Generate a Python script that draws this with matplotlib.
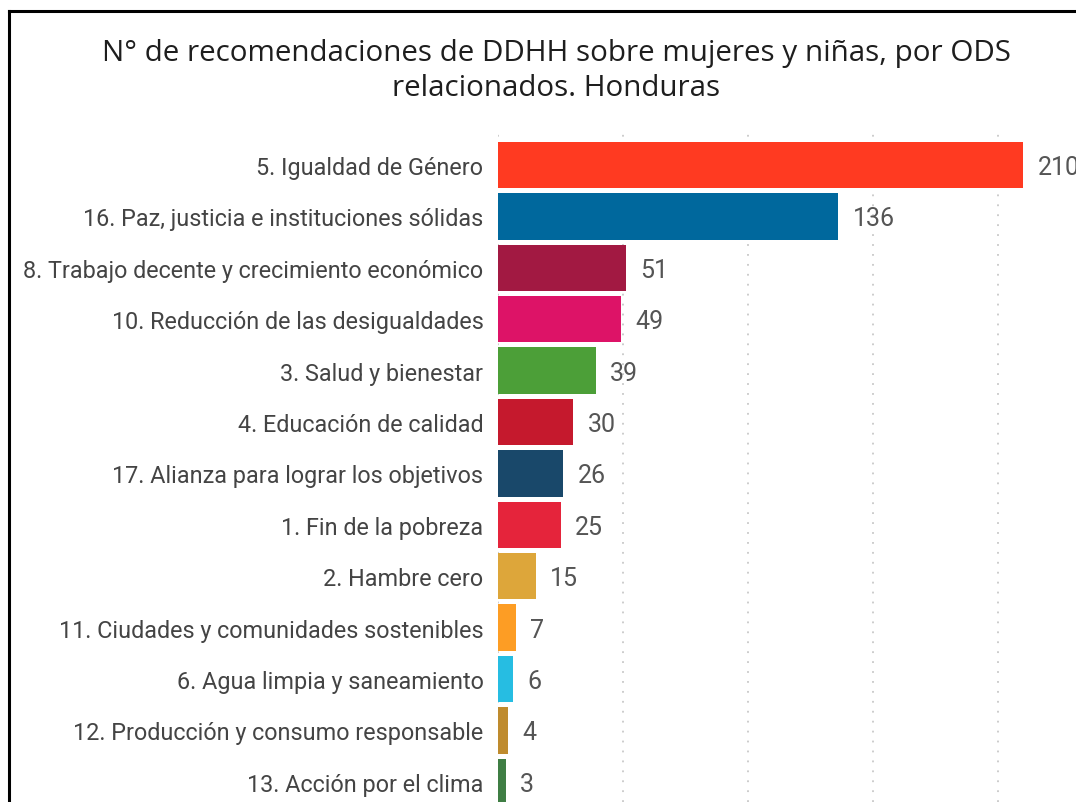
import matplotlib.pyplot as plt
from matplotlib.lines import Line2D

# ODS categories, counts and official SDG colours
categories = [
    "5. Igualdad de Género",
    "16. Paz, justicia e instituciones sólidas",
    "8. Trabajo decente y crecimiento económico",
    "10. Reducción de las desigualdades",
    "3. Salud y bienestar",
    "4. Educación de calidad",
    "17. Alianza para lograr los objetivos",
    "1. Fin de la pobreza",
    "2. Hambre cero",
    "11. Ciudades y comunidades sostenibles",
    "6. Agua limpia y saneamiento",
    "12. Producción y consumo responsable",
    "13. Acción por el clima",
]
counts = [210, 136, 51, 49, 39, 30, 26, 25, 15, 7, 6, 4, 3]
colors = ["#FF3A21", "#00689D", "#A21942", "#DD1367", "#4C9F38", "#C5192D",
          "#19486A", "#E5243B", "#DDA63A", "#FD9D24", "#26BDE2", "#BF8B2E", "#3F7E44"]
grid_ticks = [0, 50, 100, 150, 200]

W, H = 1076, 803
fig = plt.figure(figsize=(W / 100, H / 100), dpi=100)
fig.patch.set_facecolor("white")

# axes runs off the right and bottom edge, like the cropped screenshot
ax = fig.add_axes([498 / W, 0, (W - 498) / W, (H - 130) / H])
pitch = 51.4
ax.set_xlim(0, (W - 498) / 2.5)
ax.set_ylim((H - 166) / pitch, (130 - 166) / pitch)

ypos = list(range(len(categories)))
ax.barh(ypos, counts, height=0.9, color=colors, zorder=2)

for y, v in zip(ypos, counts):
    ax.text(v + 5.8, y + 0.04, str(v), va="center", ha="left", fontsize=18,
            color="#555555", family="Roboto")

ax.set_yticks(ypos)
ax.set_yticklabels(categories, fontsize=16.8, color="#444444", family="Roboto")
ax.tick_params(axis="y", length=0, pad=10.5)
ax.set_xticks(grid_ticks)
ax.tick_params(axis="x", length=0, labelbottom=False)
ax.grid(axis="x", color="#c8c8c8", linestyle=(0, (1, 4.5)), linewidth=1.3, zorder=0)
for s in ax.spines.values():
    s.set_visible(False)

fig.text(556 / W, 1 - 53 / H, "N° de recomendaciones de DDHH sobre mujeres y niñas, por ODS",
         ha="center", va="center", fontsize=21.3, color="#1e1e1e", family="Open Sans",
         fontweight="medium")
fig.text(556 / W, 1 - 89 / H, "relacionados. Honduras",
         ha="center", va="center", fontsize=21.3, color="#1e1e1e", family="Open Sans",
         fontweight="medium")

# black frame on left and top
fig.add_artist(Line2D([9 / W, 9 / W], [0, 1 - 12 / H], color="black", linewidth=2.2))
fig.add_artist(Line2D([9 / W, 1], [1 - 12 / H, 1 - 12 / H], color="black", linewidth=2.2))

fig.savefig("out.png", dpi=100)
